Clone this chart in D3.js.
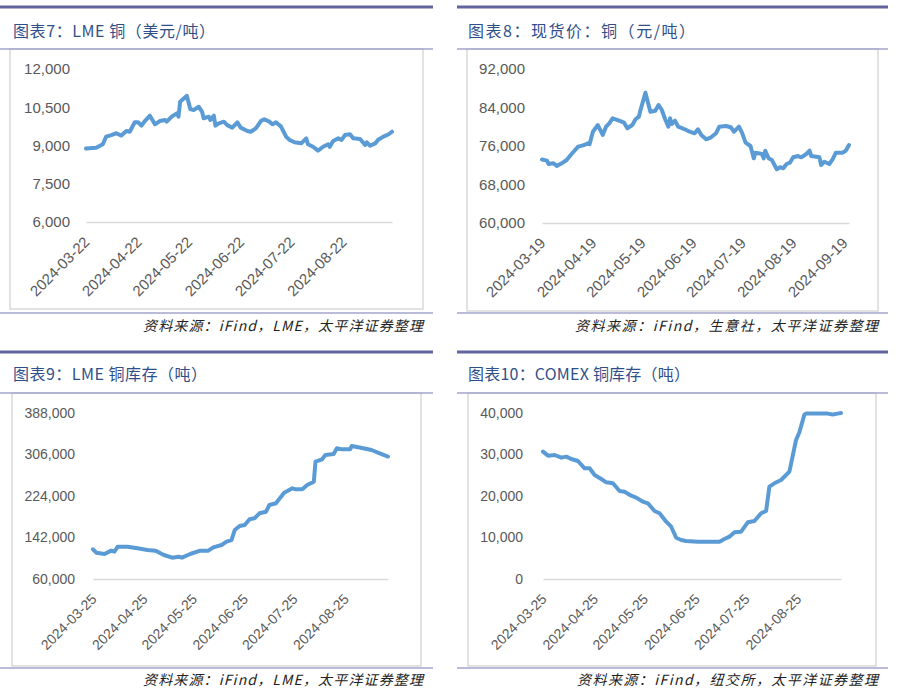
<!DOCTYPE html>
<html><head><meta charset="utf-8">
<script src="https://cdn.jsdelivr.net/npm/d3@7"></script>
<style>
html,body{margin:0;padding:0;background:#fff;}
svg{display:block;}
</style>
</head><body>
<script>
// ---------- DATA ----------
const p1Title = "图表7：LME 铜（美元/吨）";
const p1Source = "资料来源：iFind，LME，太平洋证券整理";
const p1YTicks = [6000, 7500, 9000, 10500, 12000];
const p1XTicks = ["2024-03-22","2024-04-22","2024-05-22","2024-06-22","2024-07-22","2024-08-22"];
const p1Dates = ["2024-03-22","2024-03-28","2024-04-01","2024-04-03","2024-04-06","2024-04-09","2024-04-12","2024-04-15","2024-04-17","2024-04-20",
"2024-04-22","2024-04-24","2024-04-26","2024-04-29","2024-05-02","2024-05-05","2024-05-08","2024-05-09","2024-05-12","2024-05-15",
"2024-05-16","2024-05-17","2024-05-21","2024-05-23","2024-05-25","2024-05-28","2024-05-30","2024-05-31","2024-06-03","2024-06-04",
"2024-06-06","2024-06-07","2024-06-09","2024-06-12","2024-06-14","2024-06-17","2024-06-20","2024-06-22","2024-06-26","2024-06-28",
"2024-07-01","2024-07-04","2024-07-06","2024-07-09","2024-07-11","2024-07-13","2024-07-16","2024-07-19","2024-07-21","2024-07-24",
"2024-07-28","2024-07-31","2024-08-01","2024-08-04","2024-08-07","2024-08-10","2024-08-13","2024-08-14","2024-08-16","2024-08-19",
"2024-08-21","2024-08-23","2024-08-26","2024-08-28","2024-09-01","2024-09-04","2024-09-05","2024-09-07","2024-09-10","2024-09-12",
"2024-09-15","2024-09-18","2024-09-20"];
const p1Values = [8880,8910,9050,9350,9410,9480,9390,9570,9540,9910,
9910,9780,9960,10170,9830,9960,10000,9935,10130,10260,
10130,10720,10950,10430,10390,10520,10330,10070,10130,10000,
10170,9780,9870,9935,9800,9700,9910,9700,9570,9540,
9670,9960,10030,9935,9830,9910,9740,9350,9220,9125,
9085,9280,9050,8950,8800,8950,9050,8950,9180,9280,
9220,9410,9440,9280,9255,9020,9125,8990,9085,9240,
9350,9440,9540];

const p2Title = "图表8：现货价：铜（元/吨）";
const p2Source = "资料来源：iFind，生意社，太平洋证券整理";
const p2YTicks = [60000, 68000, 76000, 84000, 92000];
const p2XTicks = ["2024-03-19","2024-04-19","2024-05-19","2024-06-19","2024-07-19","2024-08-19","2024-09-19"];
const p2Dates = ["2024-03-19","2024-03-22","2024-03-23","2024-03-26","2024-03-28","2024-03-31","2024-04-03","2024-04-06","2024-04-10","2024-04-13",
"2024-04-16","2024-04-17","2024-04-19","2024-04-22","2024-04-25","2024-04-27","2024-04-29","2024-05-01","2024-05-05","2024-05-08",
"2024-05-10","2024-05-13","2024-05-15","2024-05-17","2024-05-18","2024-05-21","2024-05-22","2024-05-24","2024-05-27","2024-05-29",
"2024-05-31","2024-06-02","2024-06-04","2024-06-05","2024-06-06","2024-06-08","2024-06-10","2024-06-14","2024-06-17","2024-06-20",
"2024-06-22","2024-06-24","2024-06-27","2024-06-30","2024-07-03","2024-07-05","2024-07-09","2024-07-12","2024-07-14","2024-07-17",
"2024-07-19","2024-07-21","2024-07-24","2024-07-26","2024-07-27","2024-07-31","2024-08-01","2024-08-02","2024-08-04","2024-08-06",
"2024-08-09","2024-08-11","2024-08-13","2024-08-15","2024-08-17","2024-08-19","2024-08-22","2024-08-24","2024-08-27","2024-08-29",
"2024-08-30","2024-09-04","2024-09-05","2024-09-07","2024-09-10","2024-09-12","2024-09-14","2024-09-18","2024-09-20","2024-09-22"];
const p2Values = [73200,72950,72260,72400,71840,72400,73090,74340,75860,76140,
76560,76400,78970,80360,78290,80010,80720,81760,81260,80840,
79680,80360,81550,82090,83480,87080,85700,83130,83340,84520,
83480,81550,80010,81750,80570,81260,80010,79470,78970,78640,
79470,78290,77390,77810,78640,80010,80160,79890,78970,80010,
78640,76690,76000,73440,74610,74340,73440,75020,73440,73090,
71160,71580,71370,72260,72530,73650,73910,73650,74340,75020,
73910,73650,72050,72740,72260,73230,74610,74610,75020,76210];

const p3Title = "图表9：LME 铜库存（吨）";
const p3Source = "资料来源：iFind，LME，太平洋证券整理";
const p3YTicks = [60000, 142000, 224000, 306000, 388000];
const p3XTicks = ["2024-03-25","2024-04-25","2024-05-25","2024-06-25","2024-07-25","2024-08-25"];
const p3Dates = ["2024-03-25","2024-03-27","2024-04-01","2024-04-05","2024-04-07","2024-04-09","2024-04-15","2024-04-21","2024-04-27","2024-05-02",
"2024-05-07","2024-05-12","2024-05-16","2024-05-18","2024-05-23","2024-05-29","2024-06-03","2024-06-06","2024-06-11","2024-06-14",
"2024-06-17","2024-06-19","2024-06-22","2024-06-25","2024-06-28","2024-07-01","2024-07-04","2024-07-08","2024-07-10","2024-07-14",
"2024-07-19","2024-07-24","2024-07-26","2024-07-30","2024-08-02","2024-08-06","2024-08-07","2024-08-11","2024-08-13","2024-08-18",
"2024-08-20","2024-08-23","2024-08-28","2024-08-29","2024-09-02","2024-09-10","2024-09-15","2024-09-20"];
const p3Values = [118700,112000,109400,116000,114000,123900,123900,120600,117300,116000,
107400,102100,104000,102100,109400,116000,116000,122600,127200,133700,
137000,156800,164700,166700,177900,179900,189800,193000,206200,209600,
230500,239200,237200,237200,245700,252300,291800,296500,305000,307000,
318200,316200,316200,322800,320200,314900,308400,302000];

const p4Title = "图表10：COMEX 铜库存（吨）";
const p4Source = "资料来源：iFind，纽交所，太平洋证券整理";
const p4YTicks = [0, 10000, 20000, 30000, 40000];
const p4XTicks = ["2024-03-25","2024-04-25","2024-05-25","2024-06-25","2024-07-25","2024-08-25"];
const p4Dates = ["2024-03-25","2024-03-28","2024-04-01","2024-04-05","2024-04-08","2024-04-11","2024-04-15","2024-04-19","2024-04-22","2024-04-25",
"2024-04-29","2024-05-02","2024-05-06","2024-05-10","2024-05-13","2024-05-17","2024-05-20","2024-05-24","2024-05-27","2024-05-31",
"2024-06-03","2024-06-07","2024-06-10","2024-06-13","2024-06-16","2024-06-19","2024-06-26","2024-07-02","2024-07-09","2024-07-12",
"2024-07-15","2024-07-18","2024-07-22","2024-07-26","2024-07-30","2024-08-03","2024-08-06","2024-08-08","2024-08-11","2024-08-15",
"2024-08-18","2024-08-20","2024-08-24","2024-08-26","2024-08-29","2024-08-30","2024-09-12","2024-09-15","2024-09-18","2024-09-20"];
const p4Values = [30700,29720,29880,29240,29480,28920,28440,26670,26670,25060,
24100,23300,23060,21210,21040,20080,19600,18630,18240,16390,
15830,13810,12600,9950,9400,9160,8990,8990,8990,9640,
10200,11250,11400,13660,13980,15830,16390,22250,23060,23860,
25060,25860,33500,35350,39600,39850,39850,39650,39850,40000];

// ---------- LAYOUT ----------
const W = 897, H = 692;
const parse = d3.timeParse("%Y-%m-%d");
const fmtDate = d3.timeFormat("%Y-%m-%d");
const LINE_COLOR = "#5b9bd5";

const svg = d3.select("body").append("svg").attr("width", W).attr("height", H);
svg.append("rect").attr("width", W).attr("height", H).attr("fill", "#fff");

const panels = [
  {title:p1Title, source:p1Source, yTicks:p1YTicks, xTicks:p1XTicks, dates:p1Dates, values:p1Values,
   lx0:0, lx1:433, top:7, mid:49, bot:313, box:[10,49,423,309], titleX:13, titleY:30, titleW:202, srcR:423, srcY:325, srcW:280,
   xr:[86,392], yr:[222,69], labelR:70, xStart:"2024-03-22", xEnd:"2024-09-20", fs:15},
  {title:p2Title, source:p2Source, yTicks:p2YTicks, xTicks:p2XTicks, dates:p2Dates, values:p2Values,
   lx0:457, lx1:888, top:7, mid:49, bot:313, box:[467,49,878,311], titleX:468, titleY:30, titleW:227, srcR:878, srcY:325, srcW:303,
   xr:[542,849], yr:[223,69], labelR:525, xStart:"2024-03-19", xEnd:"2024-09-22", fs:15},
  {title:p3Title, source:p3Source, yTicks:p3YTicks, xTicks:p3XTicks, dates:p3Dates, values:p3Values,
   lx0:0, lx1:433, top:352, mid:393, bot:668, box:[12,393,421,666], titleX:13, titleY:373, titleW:194, srcR:423, srcY:679, srcW:280,
   xr:[93,388], yr:[579,413], labelR:75, xStart:"2024-03-25", xEnd:"2024-09-20", fs:14},
  {title:p4Title, source:p4Source, yTicks:p4YTicks, xTicks:p4XTicks, dates:p4Dates, values:p4Values,
   lx0:457, lx1:888, top:352, mid:393, bot:668, box:[468,393,876,666], titleX:468, titleY:373, titleW:222, srcR:878, srcY:679, srcW:301,
   xr:[543,841], yr:[579,413], labelR:523, xStart:"2024-03-25", xEnd:"2024-09-20", fs:14}
];

panels.forEach(p => {
  const g = svg.append("g");
  // frame lines
  g.append("line").attr("x1", p.lx0).attr("x2", p.lx1).attr("y1", p.top).attr("y2", p.top)
    .attr("stroke", "#62649e").attr("stroke-width", 3);
  g.append("rect").attr("x", p.box[0]).attr("y", p.box[1]).attr("width", p.box[2]-p.box[0]).attr("height", p.box[3]-p.box[1])
    .attr("fill", "none").attr("stroke", "#d9d9d9").attr("stroke-width", 1.5);
  g.append("line").attr("x1", p.lx0).attr("x2", p.lx1).attr("y1", p.mid).attr("y2", p.mid)
    .attr("stroke", "#a3a5cc").attr("stroke-width", 1.5);
  g.append("line").attr("x1", p.lx0).attr("x2", p.lx1).attr("y1", p.bot).attr("y2", p.bot)
    .attr("stroke", "#a3a5cc").attr("stroke-width", 1.5);
  // title
  g.append("text").attr("x", p.titleX).attr("y", p.titleY).attr("dominant-baseline", "central")
    .attr("textLength", p.titleW).attr("lengthAdjust", "spacing")
    .style("font-family", "'Noto Sans CJK SC', sans-serif").style("font-size", "16px").style("font-weight", 400)
    .attr("fill", "#2f4f8a").text(p.title);
  // source
  g.append("text").attr("x", p.srcR - p.srcW).attr("y", p.srcY).attr("dominant-baseline", "central")
    .attr("textLength", p.srcW).attr("lengthAdjust", "spacing")
    .style("font-family", "'Noto Sans CJK SC', sans-serif").style("font-size", "14px").style("font-style", "italic")
    .attr("fill", "#222").text(p.source);

  // scales
  const x = d3.scaleTime().domain([parse(p.xStart), parse(p.xEnd)]).range(p.xr);
  const y = d3.scaleLinear().domain([p.yTicks[0], p.yTicks[p.yTicks.length-1]]).range(p.yr);

  // x axis (baseline + rotated date labels)
  const xa = g.append("g").attr("transform", `translate(0,${p.yr[0]})`)
    .call(d3.axisBottom(x).tickValues(p.xTicks.map(parse)).tickFormat(fmtDate).tickSize(0).tickSizeOuter(0));
  xa.select(".domain").attr("stroke", "#d9d9d9").attr("stroke-width", 1.5);
  xa.selectAll(".tick text")
    .attr("x", 0).attr("y", 0).attr("dy", 0)
    .attr("transform", "translate(4,21) rotate(-45)")
    .style("text-anchor", "end")
    .style("font-family", "'Liberation Sans', Arial, sans-serif").style("font-size", p.fs + "px")
    .attr("fill", "#595959");

  // y axis labels
  const ya = g.append("g").attr("transform", `translate(${p.labelR},0)`)
    .call(d3.axisLeft(y).tickValues(p.yTicks).tickFormat(d3.format(",")).tickSize(0).tickPadding(0));
  ya.select(".domain").remove();
  ya.selectAll(".tick text")
    .style("font-family", "'Liberation Sans', Arial, sans-serif").style("font-size", p.fs + "px")
    .attr("fill", "#595959");

  // series line
  const data = d3.zip(p.dates.map(parse), p.values);
  g.append("path").datum(data)
    .attr("d", d3.line().x(d => x(d[0])).y(d => y(d[1])))
    .attr("fill", "none").attr("stroke", LINE_COLOR).attr("stroke-width", 4)
    .attr("stroke-linejoin", "round").attr("stroke-linecap", "round");
});
</script>
</body></html>
